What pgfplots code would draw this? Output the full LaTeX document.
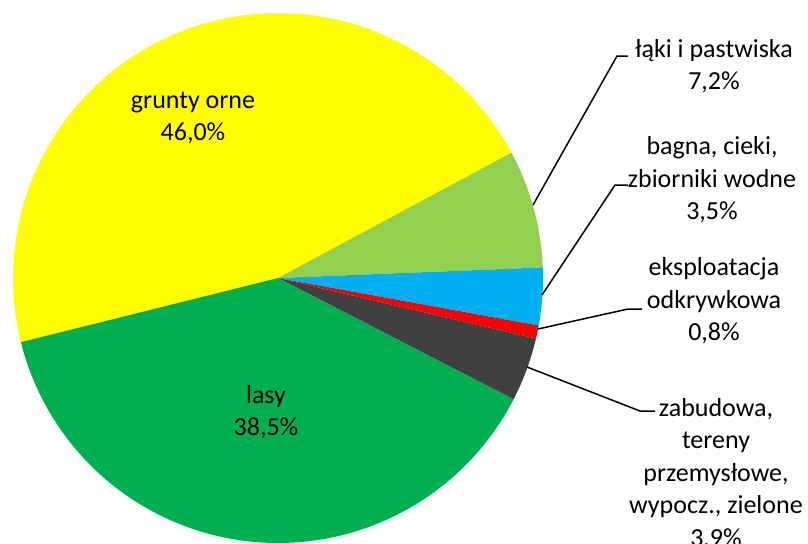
\documentclass[border=0pt]{standalone}
\usepackage{fontspec}
\setmainfont{Carlito}
\usepackage{pgfplots}
\pgfplotsset{compat=1.18}
\definecolor{cYellow}{HTML}{FFFF00}
\definecolor{cLight}{HTML}{92D050}
\definecolor{cCyan}{HTML}{00B0F0}
\definecolor{cRed}{HTML}{FF0000}
\definecolor{cGray}{HTML}{404040}
\definecolor{cGreen}{HTML}{00B050}
\tikzset{lbl/.style={font=\fontsize{13}{16.3}\selectfont, align=center, text=black, inner sep=0pt}}
\begin{document}
\begin{tikzpicture}
% shares (%): grunty orne 46.0, laki 7.2, bagna 3.5, eksploatacja 0.8, zabudowa 3.9, lasy 38.5
\pgfmathsetmacro{\k}{360/99.9}
\pgfmathsetmacro{\aA}{194.0}
\pgfmathsetmacro{\aB}{\aA-46.0*\k}
\pgfmathsetmacro{\aC}{\aB-7.2*\k}
\pgfmathsetmacro{\aD}{\aC-3.5*\k}
\pgfmathsetmacro{\aE}{\aD-0.8*\k}
\pgfmathsetmacro{\aF}{\aE-3.9*\k}
\pgfmathsetmacro{\aG}{\aF-38.5*\k}
\begin{axis}[name=ax, hide axis, scale only axis, width=404pt, height=271.5pt,
  xmin=0, xmax=808, ymin=0, ymax=543, clip=false]
\addplot[fill=cYellow, draw=none, domain=\aB:\aA, samples=120, variable=\t] ({278+265*cos(t)},{265+265*sin(t)}) -- (axis cs:278,265) -- cycle;
\addplot[fill=cLight, draw=none, domain=\aC:\aB, samples=30, variable=\t] ({278+265*cos(t)},{265+265*sin(t)}) -- (axis cs:278,265) -- cycle;
\addplot[fill=cCyan, draw=none, domain=\aD:\aC, samples=20, variable=\t] ({278+265*cos(t)},{265+265*sin(t)}) -- (axis cs:278,265) -- cycle;
\addplot[fill=cRed, draw=none, domain=\aE:\aD, samples=10, variable=\t] ({278+265*cos(t)},{265+265*sin(t)}) -- (axis cs:278,265) -- cycle;
\addplot[fill=cGray, draw=none, domain=\aF:\aE, samples=20, variable=\t] ({278+265*cos(t)},{265+265*sin(t)}) -- (axis cs:278,265) -- cycle;
\addplot[fill=cGreen, draw=none, domain=\aG:\aF, samples=120, variable=\t] ({278+265*cos(t)},{265+265*sin(t)}) -- (axis cs:278,265) -- cycle;
% leader lines
\addplot[black, line width=0.75pt, mark=none] coordinates {(533,338) (617,487) (628,487)};
\addplot[black, line width=0.75pt, mark=none] coordinates {(542,248) (615,358) (628,358)};
\addplot[black, line width=0.75pt, mark=none] coordinates {(538,214) (628,234) (642,234)};
\addplot[black, line width=0.75pt, mark=none] coordinates {(527,176) (640,132) (655,132)};
% labels
\node[lbl] at (axis cs:193,425) {grunty orne\\46,0\%};
\node[lbl] at (axis cs:266,131) {lasy\\38,5\%};
\node[lbl] at (axis cs:714,477) {łąki i pastwiska\\7,2\%};
\node[lbl] at (axis cs:712,363) {bagna, cieki,\\zbiorniki wodne\\3,5\%};
\node[lbl] at (axis cs:714,242) {eksploatacja\\odkrywkowa\\0,8\%};
\node[lbl] at (axis cs:716,69) {zabudowa,\\tereny\\przemysłowe,\\wypocz., zielone\\3,9\%};
\end{axis}
\pgfresetboundingbox
\path[use as bounding box] (ax.south west) rectangle (ax.north east);
\end{tikzpicture}
\end{document}
